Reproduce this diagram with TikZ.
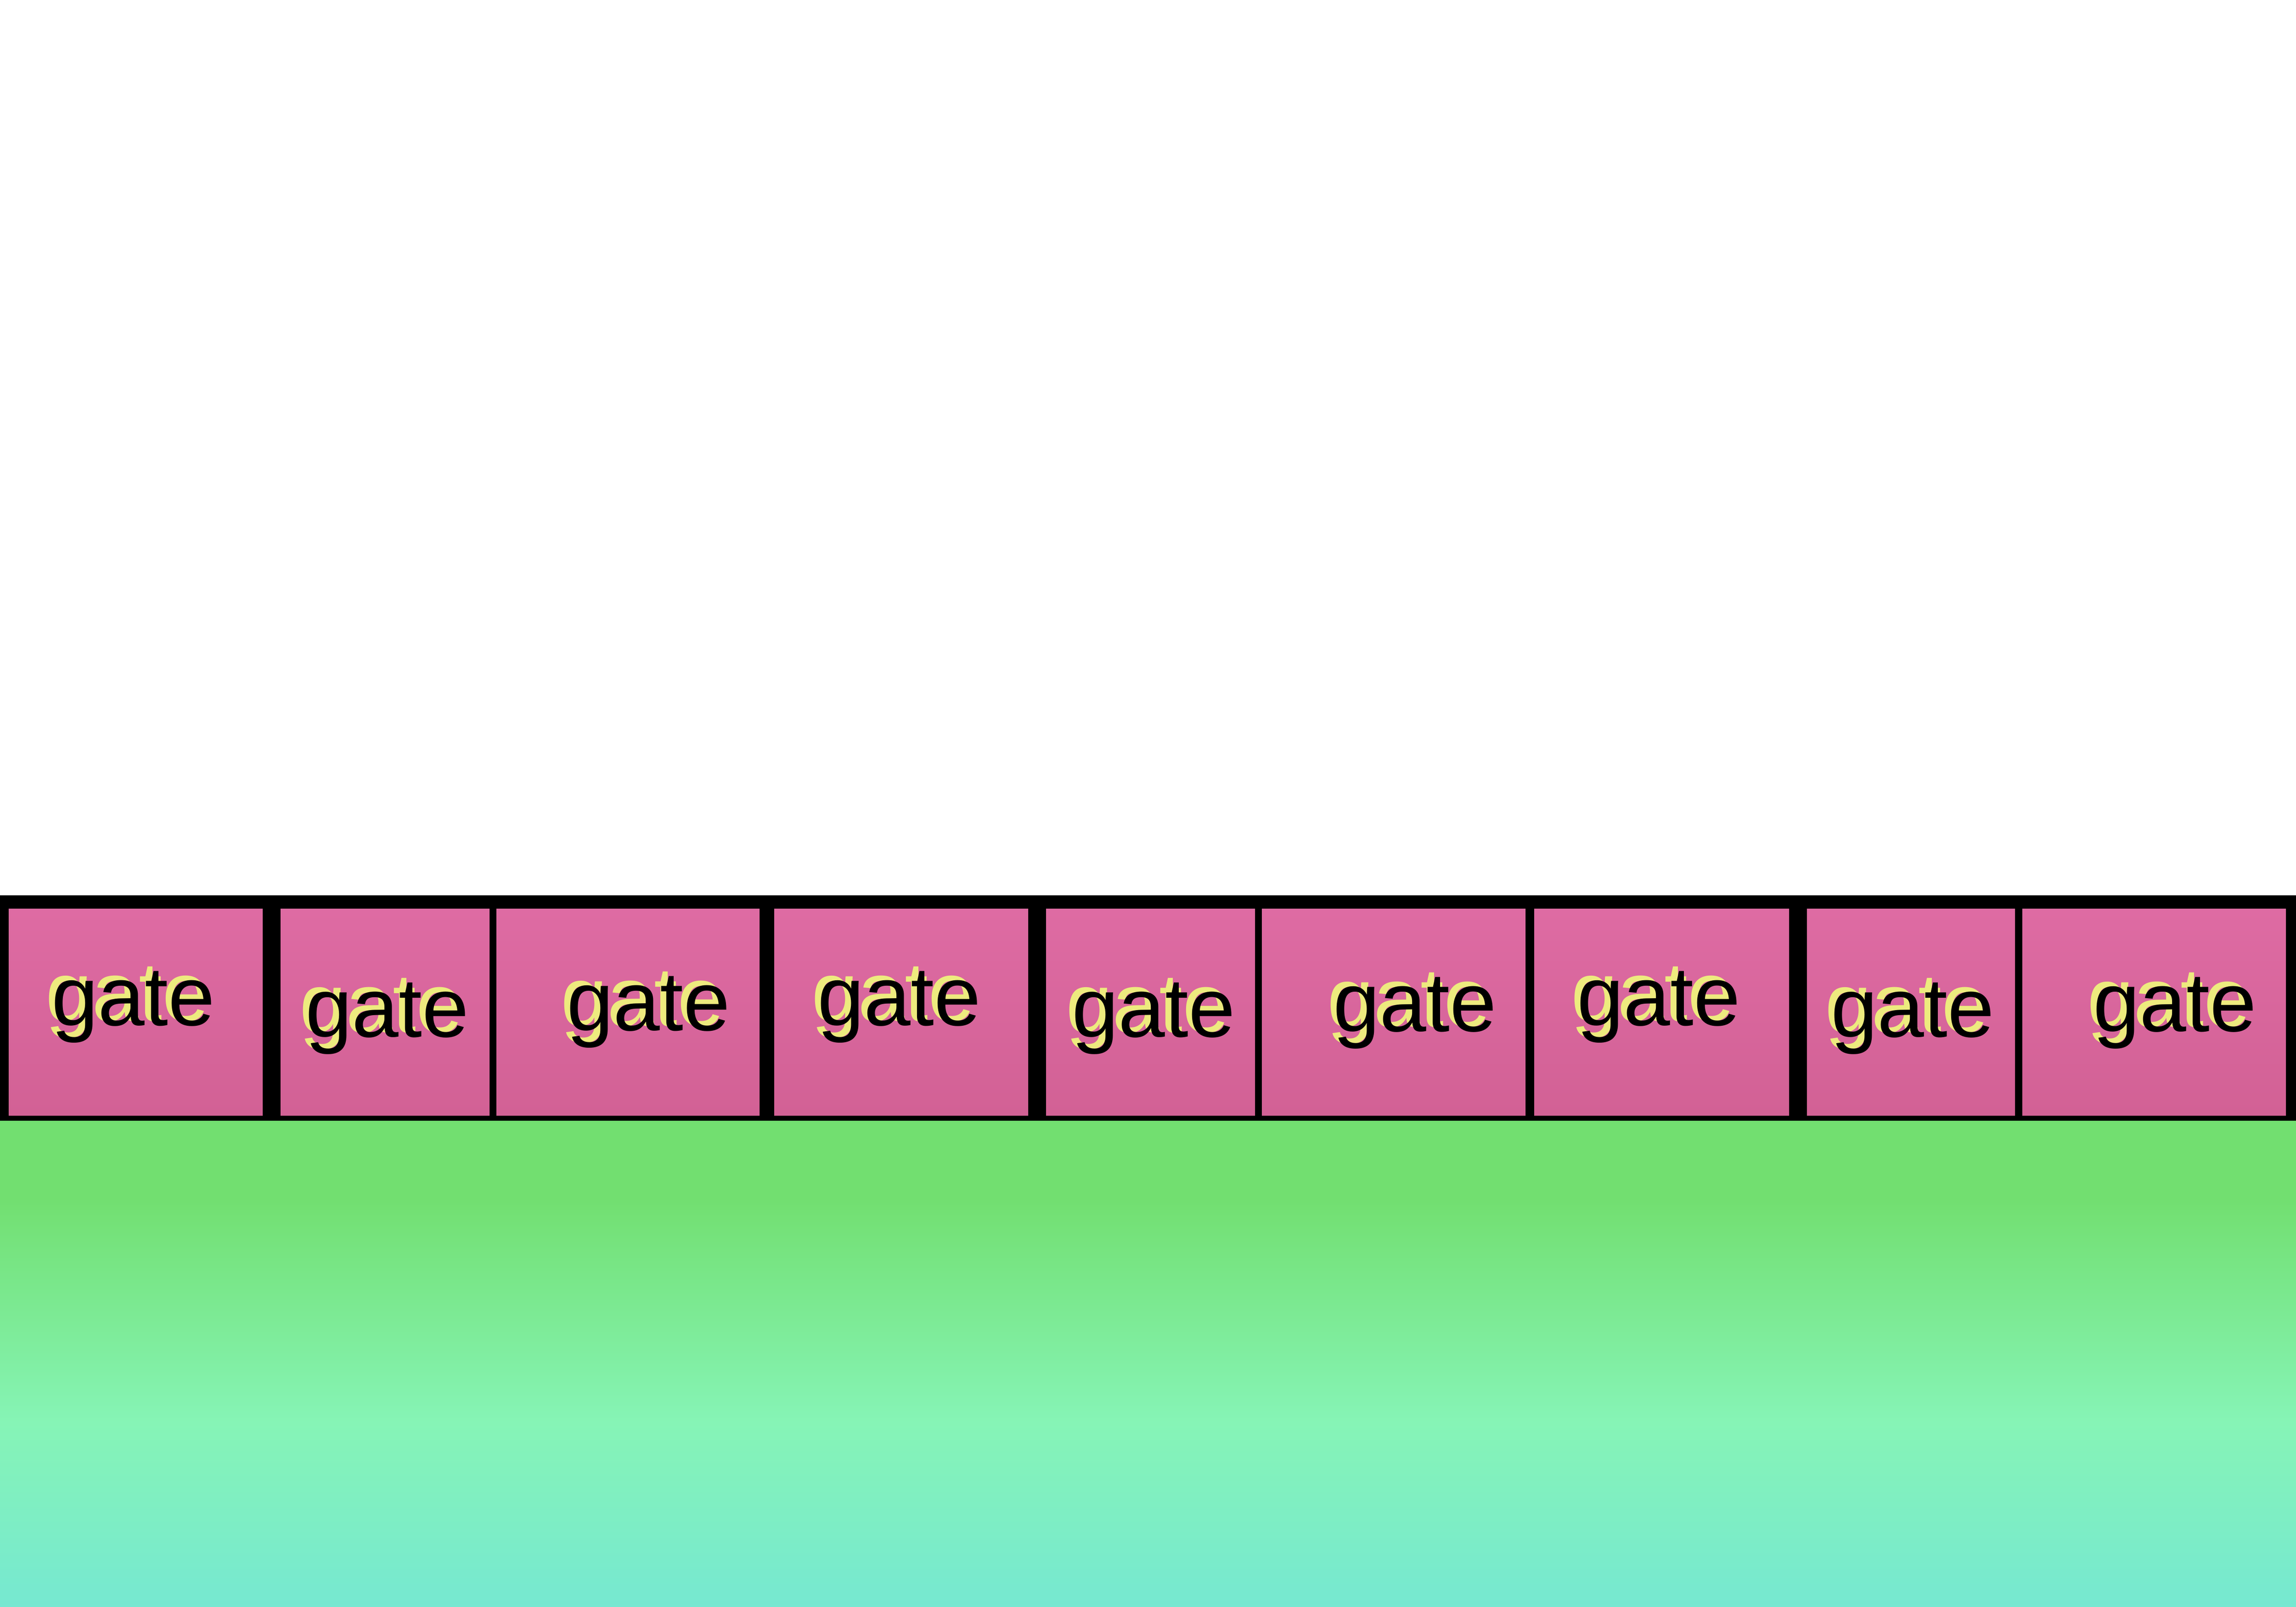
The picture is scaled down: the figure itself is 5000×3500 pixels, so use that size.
\documentclass[tikz,border=0pt]{standalone}
\usepackage{fontspec}
\setmainfont{Liberation Sans}
\definecolor{gatetop}{HTML}{DE6BA3}
\definecolor{gatebot}{HTML}{D26195}
\definecolor{shadowy}{HTML}{EDEB7E}
\definecolor{grassg}{HTML}{72DF70}
\definecolor{grassl}{HTML}{86F4B6}
\definecolor{grassb}{HTML}{76E8D1}
\pgfdeclareverticalshading{grass}{100bp}{color(0bp)=(grassb); color(25bp)=(grassb); color(44bp)=(grassl); color(67bp)=(grassg); color(75bp)=(grassg); color(100bp)=(grassg)}
\tikzset{
  gatebox/.style={rectangle, inner sep=0pt, top color=gatetop, bottom color=gatebot, minimum height=4.49cm},
  gatetext/.style={anchor=base, inner sep=0pt, font=\fontsize{52}{62}\selectfont}
}

\begin{document}
\begin{tikzpicture}[x=0.01cm, y=-0.01cm]
\useasboundingbox (0,0) rectangle (5000,3500);
\fill[white] (0,0) rectangle (5000,3500);
\fill[shading=grass] (0,2441) rectangle (5000,3500);
\fill[black] (0,1950) rectangle (5000,2441);
\foreach \n/\xa/\xb/\tx/\base in {
     1/19/572/290/2233,
     2/611/1066/843/2258,
     3/1081/1654/1412/2244,
     4/1686/2239/1958/2233,
     5/2278/2733/2512/2258,
     6/2748/3322/3081/2246,
     7/3341/3896/3612/2233,
     8/3935/4388/4165/2258,
     9/4404/4978/4736/2246}
{
  \node[gatebox, minimum width={(\xb-\xa)*0.01cm}] (b\n) at ({(\xa+\xb)/2},2204.5) {};
  \node[gatetext, text=shadowy] (s\n) at (\tx-13,\base-10) {gate};
  \node[gatetext] (t\n) at (\tx,\base) {gate};
}
\end{tikzpicture}
\end{document}
